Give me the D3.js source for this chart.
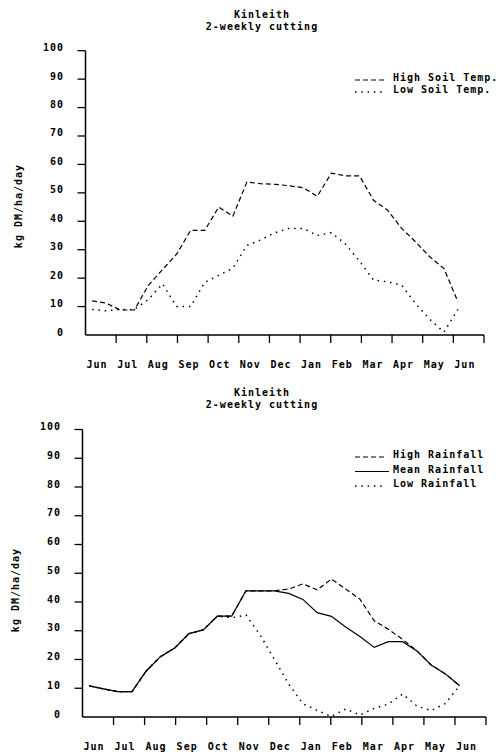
<!DOCTYPE html>
<html>
<head>
<meta charset="utf-8">
<script src="https://cdn.jsdelivr.net/npm/d3@7"></script>
<style>
  body { margin: 0; background: #fff; }
  svg text { font-family: "DejaVu Sans Mono", monospace; font-size: 10px; font-weight: bold; letter-spacing: 1px; fill: #000; }
</style>
</head>
<body>
<svg width="500" height="752"></svg>
<script>
// month labels along the x axis (one per month band)
const months = ['Jun', 'Jul', 'Aug', 'Sep', 'Oct', 'Nov', 'Dec', 'Jan', 'Feb', 'Mar', 'Apr', 'May', 'Jun'];
const yTicks = [0, 10, 20, 30, 40, 50, 60, 70, 80, 90, 100];

// growth rates at each 2-weekly cut (kg DM/ha/day)
const highSoil = [12.0, 11.2, 8.8, 8.8, 17.5, 23, 28.4, 36.8, 36.8, 45, 41.8, 53.8, 53.2, 53, 52.5, 51.8, 48.8, 56.9, 56, 56, 47.4, 43.9, 37.5, 32.7, 27.5, 23.4, 11.7];
const lowSoil = [9, 8.5, 9, 9, 12.5, 18, 10, 10, 18.5, 21, 23.5, 31.5, 33.5, 36, 37.5, 37.5, 35, 36, 32, 26, 19.3, 18.7, 17.5, 11, 5.5, 1, 9];

const highRain = [10.8, 9.8, 8.8, 8.8, 16, 21, 24, 29, 30.3, 35.1, 35.1, 43.9, 43.9, 43.9, 44.5, 46.3, 44.2, 48, 44.5, 41, 33.5, 30.5, 27, 23, 18.1, 15, 10.9];
const meanRain = [10.8, 9.8, 8.8, 8.8, 16, 21, 24, 29, 30.3, 35.1, 35.1, 43.9, 43.9, 43.9, 43, 40.9, 36.3, 35, 31.3, 28, 24.2, 26.2, 26.2, 23, 18.1, 15, 10.9];
const lowRain = [10.8, 9.8, 8.8, 8.8, 16, 21, 24, 29, 30.3, 35.1, 34.5, 35.5, 28.5, 20, 11.5, 4.6, 2.3, 0.2, 2.8, 0.7, 3, 4.5, 8, 3.8, 2.2, 4.7, 10.9];

const DASH = '5,3';
const DOT = '1.5,4.8';

const svg = d3.select('svg');

function panel(opt) {
  const g = svg.append('g');
  const x = d3.scaleLinear().domain([0, months.length]).range([opt.x0, opt.x1]);
  const y = d3.scaleLinear().domain([0, 100]).range([opt.y0, opt.y1]);
  // cuts start ~a week into June, fortnightly
  const xc = d3.scaleLinear().domain([0, 26]).range([x(0.217), x(12.15)]);

  // titles
  g.append('text').attr('x', opt.titleX).attr('y', opt.titleY).attr('text-anchor', 'middle').text('Kinleith');
  g.append('text').attr('x', opt.titleX).attr('y', opt.titleY + 12).attr('text-anchor', 'middle').text('2-weekly cutting');

  // y axis
  g.append('line')
    .attr('x1', x(0)).attr('x2', x(0))
    .attr('y1', y(0)).attr('y2', y(100))
    .attr('stroke', '#000').attr('stroke-width', 1.5);
  g.selectAll('.ytick')
    .data(yTicks.filter(d => d > 0))
    .enter()
    .append('line')
    .attr('x1', x(0) - 8).attr('x2', x(0))
    .attr('y1', d => y(d)).attr('y2', d => y(d))
    .attr('stroke', '#000').attr('stroke-width', 1.3);
  g.selectAll('.ylab')
    .data(yTicks)
    .enter()
    .append('text')
    .attr('x', opt.labX)
    .attr('y', d => y(d) + 0.5)
    .attr('text-anchor', 'end')
    .text(d => d);
  g.append('text')
    .attr('transform', `translate(${opt.ytX},${opt.ytY}) rotate(-90)`)
    .attr('text-anchor', 'middle')
    .text('kg DM/ha/day');

  // x axis
  g.append('line')
    .attr('x1', x(0)).attr('x2', x(months.length))
    .attr('y1', y(0)).attr('y2', y(0))
    .attr('stroke', '#000').attr('stroke-width', 1.5);
  g.selectAll('.xtick')
    .data(d3.range(1, months.length + 1))
    .enter()
    .append('line')
    .attr('x1', d => x(d)).attr('x2', d => x(d))
    .attr('y1', y(0)).attr('y2', y(0) + 8)
    .attr('stroke', '#000').attr('stroke-width', 1.3);
  g.selectAll('.xlab')
    .data(months)
    .enter()
    .append('text')
    .attr('x', (d, i) => x(i) + 1)
    .attr('y', opt.xlabY)
    .text(d => d);

  // series
  const line = d3.line().x((d, i) => xc(i)).y(d => y(d));
  opt.series.forEach((s) => {
    g.append('path')
      .attr('d', line(s.values))
      .attr('fill', 'none')
      .attr('stroke', '#000')
      .attr('stroke-width', s.dash === DOT ? 1.5 : 1.2)
      .attr('stroke-dasharray', s.dash);
  });

  // legend
  opt.legend.forEach((s, i) => {
    const by = opt.legY + i * opt.legStep;
    g.append('line')
      .attr('x1', 355).attr('x2', s.dash ? 385 : 389)
      .attr('y1', by - 1).attr('y2', by - 1)
      .attr('stroke', '#000')
      .attr('stroke-width', s.dash === DOT ? 1.5 : 1.2)
      .attr('stroke-dasharray', s.dash);
    g.append('text').attr('x', 393).attr('y', by).text(s.name);
  });
}

panel({
  x0: 85.5, x1: 484, y0: 335, y1: 50.7,
  titleX: 262, titleY: 18, labX: 64, ytX: 22, ytY: 206, xlabY: 368,
  series: [
    { values: highSoil, dash: DASH },
    { values: lowSoil, dash: DOT },
  ],
  legY: 81, legStep: 12,
  legend: [
    { name: 'High Soil Temp.', dash: DASH },
    { name: 'Low Soil Temp.', dash: DOT },
  ],
});

panel({
  x0: 82.5, x1: 486, y0: 717, y1: 429.5,
  titleX: 262, titleY: 396, labX: 61, ytX: 19, ytY: 590, xlabY: 750,
  series: [
    { values: highRain, dash: DASH },
    { values: lowRain, dash: DOT },
    { values: meanRain, dash: null },
  ],
  legY: 458, legStep: 14.5,
  legend: [
    { name: 'High Rainfall', dash: DASH },
    { name: 'Mean Rainfall', dash: null },
    { name: 'Low Rainfall', dash: DOT },
  ],
});
</script>
</body>
</html>
